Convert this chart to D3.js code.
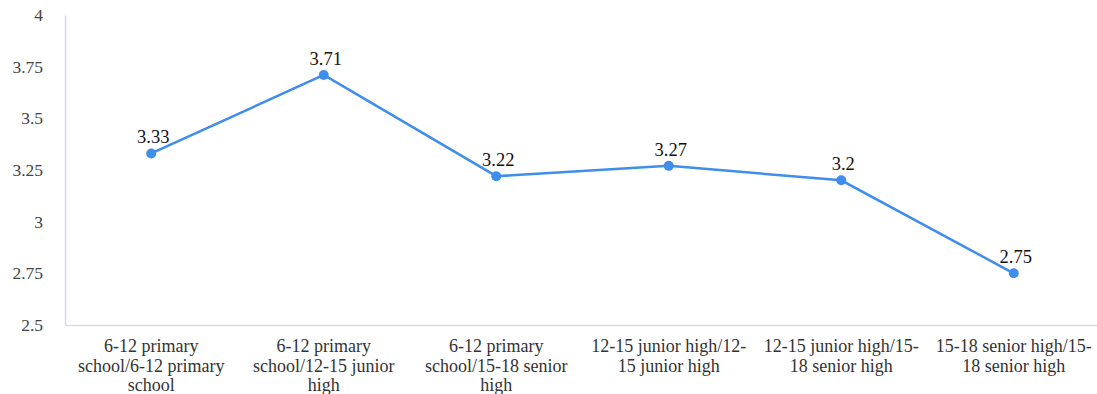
<!DOCTYPE html>
<html>
<head>
<meta charset="utf-8">
<script src="https://cdn.jsdelivr.net/npm/d3@7"></script>
<style>
  html, body { margin: 0; padding: 0; background: #ffffff; }
  svg { display: block; }
  svg text { font-family: "Liberation Serif", "Times New Roman", serif; }
</style>
</head>
<body>
<svg id="chart" width="1097" height="394"></svg>
<script>
// Categories shown along the x axis (each split into display lines)
const categories = [
  ["6-12 primary", "school/6-12 primary", "school"],
  ["6-12 primary", "school/12-15 junior", "high"],
  ["6-12 primary", "school/15-18 senior", "high"],
  ["12-15 junior high/12-", "15 junior high"],
  ["12-15 junior high/15-", "18 senior high"],
  ["15-18 senior high/15-", "18 senior high"]
];
const values = [3.33, 3.71, 3.22, 3.27, 3.2, 2.75];
const valueLabels = ["3.33", "3.71", "3.22", "3.27", "3.2", "2.75"];
const yTicks = [2.5, 2.75, 3, 3.25, 3.5, 3.75, 4];
const yTickLabels = ["2.5", "2.75", "3", "3.25", "3.5", "3.75", "4"];

const svg = d3.select("#chart");
const margin = { left: 65, right: -3, top: 15, bottom: 69 };
const W = 1097, H = 394;
const lineColor = "#3f8ded";
const axisColor = "#d5dbe8";

const x = d3.scaleBand()
  .domain(d3.range(categories.length))
  .range([margin.left, W - margin.right]);
const y = d3.scaleLinear().domain([2.5, 4]).range([H - margin.bottom, margin.top]);

// Y axis
const yAxis = d3.axisLeft(y).tickValues(yTicks)
  .tickFormat((d, i) => yTickLabels[i]).tickSize(0).tickPadding(22);
const gy = svg.append("g").attr("transform", `translate(${margin.left},0)`).call(yAxis);
gy.attr("font-family", null).attr("font-size", null);
gy.select(".domain").attr("stroke", axisColor).attr("stroke-width", 1.5);
gy.selectAll("text").attr("font-size", 17.5).attr("fill", "#444");

// X axis
const xAxis = d3.axisBottom(x).tickSize(0).tickFormat("");
const gx = svg.append("g").attr("transform", `translate(0,${y(2.5)})`).call(xAxis);
gx.select(".domain").attr("stroke", axisColor).attr("stroke-width", 1.5);

// Multi-line category labels
const cat = svg.append("g");
categories.forEach((lines, i) => {
  const cxi = x(i) + x.bandwidth() / 2;
  const t = cat.append("text")
    .attr("x", cxi)
    .attr("y", 352)
    .attr("text-anchor", "middle")
    .attr("font-size", 18)
    .attr("fill", "#333");
  lines.forEach((l, j) => {
    t.append("tspan").attr("x", cxi).attr("dy", j === 0 ? 0 : 19.5).text(l);
  });
});

// Data line
const cx = i => x(i) + x.bandwidth() / 2;
const line = d3.line().x((d, i) => cx(i)).y(d => y(d));
svg.append("path").datum(values)
  .attr("d", line).attr("fill", "none")
  .attr("stroke", lineColor).attr("stroke-width", 2.5);

svg.append("g").selectAll("circle").data(values).join("circle")
  .attr("cx", (d, i) => cx(i)).attr("cy", d => y(d)).attr("r", 5)
  .attr("fill", lineColor);

// Value labels above points
svg.append("g").selectAll("text").data(values).join("text")
  .attr("x", (d, i) => cx(i) + 2)
  .attr("y", d => y(d) - 10)
  .attr("text-anchor", "middle")
  .attr("font-size", 18.5)
  .attr("fill", "#111")
  .text((d, i) => valueLabels[i]);
</script>
</body>
</html>
